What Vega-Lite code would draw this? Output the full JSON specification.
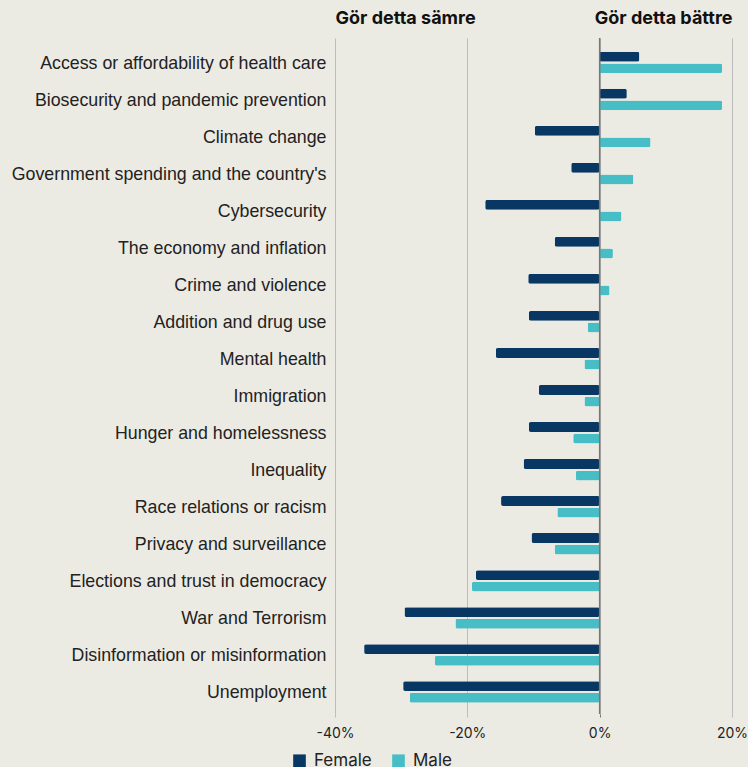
{
  "$schema": "https://vega.github.io/schema/vega-lite/v6.json",
  "autosize": {"type": "none"},
  "width": 397,
  "height": 676,
  "padding": {"left": 335, "top": 38, "right": 16, "bottom": 53},
  "background": "#ecebe3",
  "config": {"view": {"stroke": null}, "font": "Inter"},
  "data": {"values": [
    {"topic": "Access or affordability of health care", "gender": "Female", "value": 6.0},
    {"topic": "Access or affordability of health care", "gender": "Male", "value": 18.5},
    {"topic": "Biosecurity and pandemic prevention", "gender": "Female", "value": 4.1},
    {"topic": "Biosecurity and pandemic prevention", "gender": "Male", "value": 18.5},
    {"topic": "Climate change", "gender": "Female", "value": -9.8},
    {"topic": "Climate change", "gender": "Male", "value": 7.7},
    {"topic": "Government spending and the country's", "gender": "Female", "value": -4.3},
    {"topic": "Government spending and the country's", "gender": "Male", "value": 5.1},
    {"topic": "Cybersecurity", "gender": "Female", "value": -17.3},
    {"topic": "Cybersecurity", "gender": "Male", "value": 3.3},
    {"topic": "The economy and inflation", "gender": "Female", "value": -6.8},
    {"topic": "The economy and inflation", "gender": "Male", "value": 2.0},
    {"topic": "Crime and violence", "gender": "Female", "value": -10.8},
    {"topic": "Crime and violence", "gender": "Male", "value": 1.5},
    {"topic": "Addition and drug use", "gender": "Female", "value": -10.7},
    {"topic": "Addition and drug use", "gender": "Male", "value": -1.8},
    {"topic": "Mental health", "gender": "Female", "value": -15.7},
    {"topic": "Mental health", "gender": "Male", "value": -2.3},
    {"topic": "Immigration", "gender": "Female", "value": -9.2},
    {"topic": "Immigration", "gender": "Male", "value": -2.3},
    {"topic": "Hunger and homelessness", "gender": "Female", "value": -10.7},
    {"topic": "Hunger and homelessness", "gender": "Male", "value": -4.0},
    {"topic": "Inequality", "gender": "Female", "value": -11.5},
    {"topic": "Inequality", "gender": "Male", "value": -3.6},
    {"topic": "Race relations or racism", "gender": "Female", "value": -14.9},
    {"topic": "Race relations or racism", "gender": "Male", "value": -6.4},
    {"topic": "Privacy and surveillance", "gender": "Female", "value": -10.3},
    {"topic": "Privacy and surveillance", "gender": "Male", "value": -6.8},
    {"topic": "Elections and trust in democracy", "gender": "Female", "value": -18.7},
    {"topic": "Elections and trust in democracy", "gender": "Male", "value": -19.3},
    {"topic": "War and Terrorism", "gender": "Female", "value": -29.5},
    {"topic": "War and Terrorism", "gender": "Male", "value": -21.8},
    {"topic": "Disinformation or misinformation", "gender": "Female", "value": -35.6},
    {"topic": "Disinformation or misinformation", "gender": "Male", "value": -24.9},
    {"topic": "Unemployment", "gender": "Female", "value": -29.7},
    {"topic": "Unemployment", "gender": "Male", "value": -28.7}
  ]},
  "resolve": {"axis": {"x": "independent"}},
  "layer": [
    {
      "mark": {"type": "bar", "cornerRadius": 2},
      "encoding": {
        "y": {
          "field": "topic", "type": "nominal", "sort": null,
          "scale": {"paddingInner": 0.42, "paddingOuter": 0.34, "align": 0.55},
          "axis": {"title": null, "ticks": false, "domain": false, "grid": false,
                   "labelFont": "Liberation Sans", "labelFontSize": 17.8, "labelColor": "#222",
                   "labelPadding": 9, "labelLimit": 400, "labelOffset": 1}
        },
        "yOffset": {"field": "gender", "type": "nominal", "sort": ["Female", "Male"], "scale": {"paddingInner": 0.15}},
        "x": {
          "field": "value", "type": "quantitative",
          "scale": {"domain": [-40, 20], "nice": false},
          "axis": {"orient": "bottom", "title": null, "values": [-40, -20, 0, 20], "labelExpr": "datum.value + '%'",
                   "domain": false, "grid": true, "gridColor": "#bdbdbd", "gridWidth": 1,
                   "tickSize": 3, "tickColor": {"condition": {"test": "datum.value === 0", "value": "#777"}, "value": "#bdbdbd"},
                   "labelFlush": false, "labelFontSize": 14, "labelColor": "#222", "labelPadding": 9}
        },
        "color": {
          "field": "gender", "type": "nominal",
          "scale": {"domain": ["Female", "Male"], "range": ["#083763", "#47bdc6"]},
          "legend": {"title": null, "orient": "none", "legendX": -44, "legendY": 714, "direction": "horizontal",
                     "padding": 0, "symbolType": "square", "symbolSize": 160, "symbolStrokeWidth": 0,
                     "labelFontSize": 17, "labelColor": "#222", "labelOffset": 6, "columnPadding": 18}
        }
      }
    },
    {
      "data": {"values": [{"z": 0}]},
      "mark": {"type": "rule", "color": "#777", "strokeWidth": 1.5},
      "encoding": {
        "x": {
          "field": "z", "type": "quantitative",
          "axis": {"orient": "top", "title": null, "values": [-40, 20],
                   "labelExpr": "datum.value < 0 ? 'Gör detta sämre' : 'Gör detta bättre'",
                   "labelFlush": true, "labelOverlap": false,
                   "ticks": false, "domain": false, "grid": false,
                   "labelFontWeight": "bold", "labelFontSize": 18, "labelColor": "#111", "labelPadding": 11}
        }
      }
    }
  ]
}
